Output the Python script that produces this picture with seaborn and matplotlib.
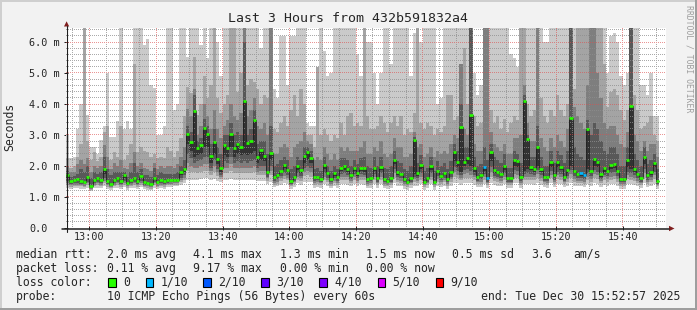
import numpy as np
import pandas as pd
import matplotlib
matplotlib.use("Agg")
import matplotlib.pyplot as plt
import seaborn as sns
from matplotlib.patches import Rectangle, Polygon
from matplotlib.lines import Line2D

# ---------------- data (values in ms, one entry per minute from 12:53) ----------------
start_clock = "12:53"

median = [1.72, 1.52, 1.55, 1.58, 1.52, 1.50, 1.65, 1.35, 1.55, 1.62,
          1.56, 1.90, 1.53, 1.43, 1.55, 1.62, 1.52, 1.70, 1.45, 1.55,
          1.62, 1.53, 1.68, 1.47, 1.45, 1.42, 1.62, 1.50, 1.55, 1.52,
          1.54, 1.55, 1.56, 1.56, 1.82, 1.90, 3.02, 2.76, 3.77, 2.59,
          2.68, 3.24, 3.02, 2.31, 2.76, 2.21, 1.93, 2.68, 2.59, 3.04,
          2.57, 2.71, 2.62, 4.10, 2.73, 2.81, 3.48, 2.28, 2.52, 2.32,
          1.82, 2.43, 1.63, 1.71, 1.85, 2.03, 1.87, 1.52, 1.66, 2.00,
          1.86, 2.32, 2.46, 2.27, 1.64, 1.66, 1.59, 2.02, 1.78, 1.57,
          1.76, 1.64, 1.94, 1.99, 1.90, 1.72, 1.92, 1.76, 1.94, 1.92,
          1.58, 1.62, 1.94, 1.60, 1.98, 1.57, 1.53, 1.60, 2.20, 1.81,
          1.75, 1.57, 1.50, 1.62, 2.85, 1.76, 2.02, 1.50, 1.60, 2.00,
          1.50, 1.84, 1.68, 1.78, 1.57, 1.82, 2.44, 2.13, 3.27, 2.14,
          2.25, 3.65, 1.92, 1.66, 1.71, 1.96, 1.60, 2.44, 1.87, 1.82,
          1.75, 1.99, 1.60, 1.60, 2.19, 2.15, 1.63, 4.10, 2.86, 1.96,
          1.90, 2.62, 1.89, 1.65, 1.63, 2.14, 1.70, 2.12, 1.97, 1.66,
          1.86, 3.54, 1.84, 1.75, 1.76, 1.70, 3.20, 1.84, 2.22, 2.13,
          1.74, 1.92, 1.84, 2.02, 2.08, 1.84, 1.57, 1.57, 2.20, 3.92,
          1.90, 1.75, 1.62, 2.29, 1.70, 1.81, 2.10, 1.52]

# sorted pings per minute: p0 (fastest) ... p9 (slowest); the median is p5
p9 = [3.0, 2.25, 2.3, 3.2, 4.0, 7.0, 3.65, 2.6, 2.6, 2.4,
      2.85, 3.3, 5.0, 2.95, 2.95, 3.45, 7.0, 3.2, 3.45, 3.2,
      7.0, 7.0, 7.0, 5.9, 6.1, 4.6, 4.5, 3.0, 3.0, 3.3,
      7.0, 7.0, 3.8, 4.0, 7.0, 7.0, 5.5, 7.0, 7.0, 7.0,
      5.9, 7.0, 5.5, 7.0, 7.0, 6.0, 4.9, 7.0, 7.0, 7.0,
      7.0, 7.0, 7.0, 7.0, 7.0, 7.0, 7.0, 7.0, 5.8, 7.0,
      7.0, 7.0, 4.5, 4.2, 6.2, 6.2, 4.6, 6.2, 6.2, 7.0,
      7.0, 7.0, 3.4, 3.3, 3.3, 5.2, 7.0, 5.7, 4.9, 5.0,
      7.0, 7.0, 7.0, 7.0, 7.0, 7.0, 7.0, 5.6, 4.9, 7.0,
      6.0, 6.0, 5.0, 4.0, 5.0, 7.0, 7.0, 5.3, 7.0, 7.0,
      7.0, 7.0, 7.0, 4.9, 6.3, 6.3, 6.0, 7.0, 7.0, 7.0,
      7.0, 4.0, 4.2, 7.0, 7.0, 7.0, 7.0, 7.0, 7.0, 7.0,
      7.0, 7.0, 5.0, 4.3, 4.6, 7.0, 7.0, 7.0, 7.0, 7.0,
      7.0, 7.0, 7.0, 5.6, 5.5, 5.2, 7.0, 7.0, 7.0, 7.0,
      7.0, 7.0, 7.0, 6.0, 6.0, 7.0, 7.0, 7.0, 7.0, 7.0,
      7.0, 7.0, 7.0, 7.0, 7.0, 7.0, 7.0, 7.0, 7.0, 7.0,
      7.0, 7.0, 5.0, 6.2, 6.3, 6.0, 4.9, 4.6, 5.0, 7.0,
      7.0, 7.0, 4.6, 4.6, 4.3, 5.0, 3.6, 3.6]

p8 = [2.25, 1.95, 2.0, 2.3, 2.7, 7.0, 2.8, 2.2, 2.45, 2.15,
      2.3, 3.1, 3.3, 2.2, 2.45, 2.3, 3.3, 2.2, 2.35, 2.7,
      5.3, 2.45, 2.6, 2.5, 2.45, 2.3, 2.4, 2.25, 2.3, 2.25,
      2.6, 2.5, 2.3, 2.5, 2.9, 3.6, 4.55, 4.35, 5.5, 3.65,
      4.0, 4.9, 4.2, 4.6, 7.0, 4.2, 3.7, 4.0, 4.3, 7.0,
      7.0, 4.4, 5.0, 7.0, 4.6, 4.8, 4.7, 4.5, 4.0, 4.3,
      4.2, 7.0, 3.2, 3.1, 3.4, 3.6, 3.3, 3.8, 4.3, 3.6,
      4.5, 4.0, 3.0, 3.0, 2.6, 5.2, 3.0, 3.2, 3.0, 2.8,
      3.0, 2.9, 3.4, 3.0, 3.6, 3.7, 3.3, 3.4, 3.3, 7.0,
      3.6, 3.2, 3.2, 3.3, 3.6, 3.4, 3.1, 3.4, 3.6, 3.3,
      3.6, 3.0, 3.2, 3.1, 3.7, 7.0, 3.4, 3.2, 3.4, 3.3,
      3.0, 3.2, 3.1, 3.3, 4.3, 4.3, 3.5, 3.6, 5.3, 5.8,
      4.0, 7.0, 3.6, 3.3, 3.4, 7.0, 7.0, 3.8, 3.4, 3.6,
      3.2, 3.5, 3.1, 3.4, 3.6, 3.5, 7.0, 7.0, 4.0, 3.6,
      3.8, 7.0, 4.2, 3.6, 3.4, 3.8, 3.6, 4.3, 3.8, 3.6,
      4.0, 7.0, 4.5, 7.0, 7.0, 7.0, 7.0, 7.0, 7.0, 7.0,
      7.0, 5.3, 3.9, 4.4, 4.5, 4.3, 3.8, 3.5, 3.8, 7.0,
      4.3, 3.8, 3.2, 3.3, 3.4, 3.6, 3.0, 2.8]

p7 = [2.0, 1.8, 1.8, 2.05, 2.2, 2.05, 2.25, 1.8, 2.0, 1.95,
      2.0, 2.68, 2.3, 1.9, 2.1, 2.0, 2.2, 1.95, 1.9, 2.1,
      2.45, 2.0, 2.1, 1.95, 1.9, 1.85, 2.1, 1.9, 2.0, 1.95,
      2.0, 2.0, 1.95, 2.05, 2.3, 2.6, 3.85, 3.6, 4.5, 3.0,
      3.3, 4.0, 3.6, 3.2, 3.8, 3.2, 2.9, 3.3, 3.5, 4.0,
      3.6, 3.5, 3.7, 7.0, 3.6, 3.8, 4.2, 3.3, 3.2, 3.4,
      3.0, 7.0, 2.4, 2.4, 2.6, 2.7, 2.6, 2.3, 2.6, 2.7,
      2.8, 3.1, 2.8, 2.7, 2.2, 2.3, 2.2, 2.6, 2.4, 2.2,
      2.4, 2.2, 2.6, 2.5, 2.6, 2.5, 2.5, 2.5, 2.6, 2.8,
      2.4, 2.4, 2.6, 2.5, 2.8, 2.4, 2.3, 2.4, 2.9, 2.6,
      2.6, 2.3, 2.3, 2.4, 3.1, 2.6, 2.7, 2.3, 2.4, 2.6,
      2.3, 2.5, 2.4, 2.5, 2.4, 2.7, 3.0, 2.9, 5.3, 3.2,
      3.0, 7.0, 2.7, 2.5, 2.5, 7.0, 7.0, 3.1, 2.7, 2.6,
      2.5, 2.7, 2.4, 2.4, 2.9, 2.9, 3.0, 4.6, 3.4, 2.8,
      2.8, 7.0, 2.9, 2.6, 2.5, 2.9, 2.6, 3.0, 2.8, 2.6,
      3.2, 7.0, 3.9, 3.6, 3.4, 3.2, 4.6, 7.0, 7.0, 5.0,
      4.2, 3.4, 3.2, 3.3, 3.3, 3.0, 2.7, 2.6, 3.1, 7.0,
      3.0, 2.8, 2.5, 2.8, 2.5, 2.7, 2.7, 2.3]

p6 = [1.85, 1.65, 1.68, 1.75, 1.9, 1.8, 2.0, 1.6, 1.8, 1.75,
      1.8, 2.3, 1.9, 1.7, 1.8, 1.8, 1.8, 1.8, 1.65, 1.8,
      2.1, 1.8, 1.9, 1.7, 1.7, 1.65, 1.95, 1.7, 1.8, 1.75,
      1.75, 1.75, 1.75, 1.8, 2.0, 2.2, 3.3, 3.1, 4.3, 2.8,
      2.9, 3.5, 3.3, 2.7, 3.2, 2.6, 2.4, 3.0, 3.0, 3.4,
      3.0, 3.1, 3.0, 6.0, 3.0, 3.2, 3.8, 2.7, 2.8, 2.8,
      2.4, 3.3, 2.0, 2.05, 2.2, 2.3, 2.2, 1.9, 2.0, 2.3,
      2.2, 2.6, 2.6, 2.5, 1.9, 1.95, 1.85, 2.3, 2.0, 1.85,
      2.0, 1.9, 2.25, 2.25, 2.2, 2.0, 2.2, 2.05, 2.25, 2.3,
      2.0, 1.95, 2.3, 2.0, 2.3, 1.95, 1.9, 2.0, 2.5, 2.15,
      2.1, 1.9, 1.85, 2.0, 2.95, 2.1, 2.35, 1.85, 1.95, 2.3,
      1.85, 2.15, 2.0, 2.1, 1.9, 2.15, 2.7, 2.5, 4.0, 2.6,
      2.6, 7.0, 2.3, 2.0, 2.05, 2.6, 2.2, 2.7, 2.3, 2.2,
      2.1, 2.4, 1.95, 1.95, 2.5, 2.4, 2.1, 4.3, 3.0, 2.3,
      2.3, 3.3, 2.3, 2.0, 2.0, 2.5, 2.1, 2.5, 2.35, 2.1,
      2.5, 7.0, 2.6, 2.4, 2.3, 2.2, 3.5, 3.0, 3.4, 3.2,
      2.8, 2.5, 2.4, 2.6, 2.6, 2.4, 2.0, 2.0, 2.6, 7.0,
      2.4, 2.2, 2.0, 2.6, 2.05, 2.2, 2.4, 1.9]

p4 = [1.62, 1.48, 1.50, 1.52, 1.47, 1.46, 1.58, 1.32, 1.50, 1.56,
      1.50, 1.75, 1.48, 1.40, 1.50, 1.56, 1.48, 1.62, 1.42, 1.50,
      1.56, 1.48, 1.60, 1.44, 1.42, 1.39, 1.56, 1.46, 1.50, 1.48,
      1.50, 1.51, 1.52, 1.52, 1.72, 1.80, 2.7, 2.5, 2.3, 2.35,
      2.4, 2.6, 2.6, 2.1, 2.4, 2.05, 1.82, 2.35, 2.3, 2.6,
      2.3, 2.4, 2.35, 2.4, 2.35, 2.4, 2.5, 2.1, 2.2, 2.15,
      1.75, 2.2, 1.58, 1.65, 1.78, 1.92, 1.80, 1.47, 1.60, 1.88,
      1.78, 2.1, 2.2, 2.1, 1.58, 1.60, 1.54, 1.90, 1.70, 1.52,
      1.68, 1.58, 1.85, 1.88, 1.82, 1.66, 1.84, 1.68, 1.85, 1.82,
      1.54, 1.57, 1.85, 1.55, 1.88, 1.52, 1.49, 1.55, 2.05, 1.72,
      1.68, 1.52, 1.46, 1.56, 1.75, 1.68, 1.90, 1.46, 1.55, 1.88,
      1.46, 1.76, 1.62, 1.70, 1.52, 1.74, 2.15, 1.98, 1.80, 2.0,
      2.05, 2.0, 1.82, 1.60, 1.64, 1.85, 1.55, 2.15, 1.78, 1.74,
      1.68, 1.88, 1.55, 1.55, 2.0, 1.98, 1.58, 1.85, 1.9, 1.86,
      1.82, 2.0, 1.80, 1.60, 1.58, 1.98, 1.63, 1.96, 1.86, 1.60,
      1.76, 2.0, 1.76, 1.68, 1.68, 1.64, 1.9, 1.76, 2.0, 1.96,
      1.66, 1.82, 1.76, 1.90, 1.94, 1.76, 1.52, 1.52, 1.96, 1.9,
      1.80, 1.68, 1.56, 2.05, 1.63, 1.72, 1.96, 1.47]

p3 = [1.52, 1.42, 1.45, 1.46, 1.42, 1.41, 1.50, 1.28, 1.44, 1.50,
      1.45, 1.62, 1.43, 1.36, 1.45, 1.50, 1.43, 1.53, 1.38, 1.45,
      1.50, 1.43, 1.52, 1.39, 1.38, 1.35, 1.50, 1.41, 1.45, 1.43,
      1.46, 1.47, 1.48, 1.48, 1.62, 1.70, 2.4, 2.25, 2.1, 2.15,
      2.2, 2.3, 2.3, 1.95, 2.2, 1.9, 1.72, 2.15, 2.1, 2.3,
      2.1, 2.15, 2.1, 2.15, 2.1, 2.15, 2.2, 1.95, 2.0, 2.0,
      1.66, 2.0, 1.52, 1.58, 1.68, 1.78, 1.70, 1.42, 1.53, 1.76,
      1.68, 1.95, 2.0, 1.95, 1.52, 1.54, 1.49, 1.78, 1.62, 1.47,
      1.60, 1.52, 1.74, 1.76, 1.72, 1.58, 1.73, 1.60, 1.74, 1.72,
      1.48, 1.51, 1.74, 1.49, 1.76, 1.47, 1.44, 1.50, 1.9, 1.64,
      1.60, 1.47, 1.42, 1.50, 1.65, 1.60, 1.78, 1.42, 1.49, 1.76,
      1.42, 1.67, 1.55, 1.62, 1.47, 1.65, 1.98, 1.84, 1.70, 1.86,
      1.9, 1.85, 1.72, 1.53, 1.57, 1.74, 1.49, 1.98, 1.68, 1.65,
      1.60, 1.76, 1.49, 1.49, 1.86, 1.84, 1.52, 1.74, 1.78, 1.75,
      1.72, 1.86, 1.70, 1.53, 1.52, 1.84, 1.56, 1.82, 1.75, 1.53,
      1.67, 1.86, 1.67, 1.60, 1.60, 1.57, 1.78, 1.67, 1.86, 1.82,
      1.58, 1.72, 1.67, 1.78, 1.80, 1.67, 1.47, 1.47, 1.82, 1.78,
      1.70, 1.60, 1.50, 1.9, 1.56, 1.64, 1.82, 1.42]

p2 = [1.45, 1.38, 1.40, 1.40, 1.38, 1.37, 1.44, 1.25, 1.40, 1.44,
      1.40, 1.52, 1.38, 1.32, 1.40, 1.44, 1.38, 1.46, 1.34, 1.40,
      1.44, 1.38, 1.45, 1.35, 1.34, 1.31, 1.44, 1.37, 1.40, 1.38,
      1.42, 1.43, 1.44, 1.44, 1.55, 1.62, 2.1, 2.0, 1.95, 1.95,
      2.0, 2.05, 2.05, 1.85, 2.0, 1.80, 1.65, 1.95, 1.92, 2.05,
      1.95, 1.95, 1.95, 1.95, 1.95, 1.95, 2.0, 1.82, 1.85, 1.85,
      1.60, 1.85, 1.46, 1.50, 1.60, 1.68, 1.62, 1.38, 1.47, 1.66,
      1.60, 1.82, 1.85, 1.80, 1.46, 1.48, 1.44, 1.66, 1.55, 1.42,
      1.53, 1.46, 1.64, 1.66, 1.63, 1.51, 1.64, 1.53, 1.64, 1.63,
      1.43, 1.45, 1.64, 1.44, 1.66, 1.42, 1.40, 1.44, 1.76, 1.56,
      1.53, 1.42, 1.38, 1.45, 1.57, 1.53, 1.66, 1.38, 1.44, 1.66,
      1.38, 1.59, 1.49, 1.55, 1.42, 1.57, 1.82, 1.72, 1.62, 1.74,
      1.76, 1.72, 1.63, 1.47, 1.50, 1.64, 1.44, 1.82, 1.60, 1.57,
      1.53, 1.66, 1.44, 1.44, 1.74, 1.72, 1.46, 1.64, 1.66, 1.65,
      1.63, 1.74, 1.62, 1.47, 1.46, 1.72, 1.50, 1.70, 1.65, 1.47,
      1.59, 1.74, 1.59, 1.53, 1.53, 1.50, 1.66, 1.59, 1.74, 1.70,
      1.51, 1.63, 1.59, 1.66, 1.68, 1.59, 1.42, 1.42, 1.70, 1.66,
      1.62, 1.53, 1.45, 1.76, 1.50, 1.56, 1.70, 1.38]

p1 = [1.38, 1.33, 1.35, 1.36, 1.34, 1.32, 1.38, 1.22, 1.35, 1.38,
      1.35, 1.45, 1.33, 1.28, 1.35, 1.38, 1.33, 1.40, 1.30, 1.35,
      1.38, 1.33, 1.39, 1.31, 1.30, 1.27, 1.38, 1.32, 1.35, 1.33,
      1.38, 1.39, 1.40, 1.40, 1.48, 1.54, 1.85, 1.80, 1.80, 1.78,
      1.80, 1.85, 1.85, 1.72, 1.82, 1.68, 1.58, 1.78, 1.76, 1.85,
      1.78, 1.78, 1.78, 1.78, 1.78, 1.78, 1.80, 1.70, 1.72, 1.72,
      1.52, 1.70, 1.40, 1.43, 1.52, 1.58, 1.54, 1.34, 1.41, 1.56,
      1.52, 1.68, 1.70, 1.66, 1.40, 1.42, 1.38, 1.56, 1.48, 1.37,
      1.46, 1.40, 1.55, 1.56, 1.54, 1.44, 1.55, 1.46, 1.55, 1.54,
      1.37, 1.39, 1.55, 1.38, 1.56, 1.37, 1.35, 1.38, 1.62, 1.48,
      1.46, 1.37, 1.33, 1.39, 1.49, 1.46, 1.56, 1.33, 1.38, 1.56,
      1.33, 1.50, 1.42, 1.47, 1.37, 1.49, 1.66, 1.60, 1.54, 1.62,
      1.62, 1.60, 1.54, 1.41, 1.43, 1.55, 1.38, 1.66, 1.52, 1.49,
      1.46, 1.56, 1.38, 1.38, 1.62, 1.60, 1.40, 1.55, 1.56, 1.55,
      1.54, 1.62, 1.53, 1.41, 1.40, 1.60, 1.43, 1.58, 1.55, 1.41,
      1.50, 1.62, 1.50, 1.46, 1.46, 1.43, 1.56, 1.50, 1.62, 1.58,
      1.44, 1.54, 1.50, 1.56, 1.57, 1.50, 1.37, 1.37, 1.58, 1.56,
      1.53, 1.46, 1.39, 1.62, 1.43, 1.48, 1.58, 1.34]

p0 = [1.30, 1.25, 1.28, 1.30, 1.27, 1.26, 1.30, 1.18, 1.28, 1.30,
      1.28, 1.35, 1.27, 1.22, 1.28, 1.30, 1.26, 1.32, 1.24, 1.28,
      1.30, 1.27, 1.31, 1.25, 1.24, 1.21, 1.30, 1.26, 1.28, 1.27,
      1.32, 1.33, 1.34, 1.34, 1.40, 1.45, 1.55, 1.55, 1.55, 1.55,
      1.58, 1.60, 1.60, 1.55, 1.58, 1.52, 1.48, 1.55, 1.55, 1.58,
      1.56, 1.55, 1.56, 1.55, 1.55, 1.56, 1.56, 1.52, 1.52, 1.52,
      1.42, 1.50, 1.32, 1.34, 1.40, 1.45, 1.42, 1.26, 1.32, 1.44,
      1.40, 1.50, 1.50, 1.48, 1.30, 1.32, 1.28, 1.42, 1.36, 1.28,
      1.35, 1.30, 1.42, 1.42, 1.40, 1.34, 1.42, 1.35, 1.42, 1.40,
      1.28, 1.30, 1.42, 1.28, 1.42, 1.28, 1.26, 1.28, 1.45, 1.36,
      1.34, 1.27, 1.24, 1.29, 1.36, 1.34, 1.42, 1.24, 1.28, 1.42,
      1.24, 1.37, 1.31, 1.35, 1.27, 1.36, 1.46, 1.44, 1.40, 1.45,
      1.45, 1.44, 1.40, 1.31, 1.32, 1.42, 1.28, 1.46, 1.38, 1.36,
      1.34, 1.42, 1.28, 1.28, 1.45, 1.44, 1.30, 1.42, 1.42, 1.42,
      1.40, 1.45, 1.40, 1.31, 1.30, 1.44, 1.32, 1.42, 1.42, 1.31,
      1.37, 1.45, 1.37, 1.34, 1.34, 1.32, 1.42, 1.37, 1.45, 1.42,
      1.33, 1.40, 1.37, 1.42, 1.42, 1.37, 1.27, 1.27, 1.42, 1.42,
      1.40, 1.34, 1.29, 1.45, 1.32, 1.36, 1.42, 1.26]

# lost pings (out of 10) for the minutes that had loss; all others 0
lossy_minutes = {125: 1, 126: 1, 154: 1, 155: 1}

loss_levels = ["0", "1/10", "2/10", "3/10", "4/10", "5/10", "9/10"]
loss_level_values = [0, 1, 2, 3, 4, 5, 9]
loss_colors = ["#26ff00", "#00b8ff", "#0059ff", "#5e00ff", "#7e00ff", "#dd00ff", "#ff0000"]

x_tick_labels = ["13:00", "13:20", "13:40", "14:00", "14:20", "14:40", "15:00", "15:20", "15:40"]
y_tick_values = [0, 1, 2, 3, 4, 5, 6]
y_tick_labels = ["0.0", "1.0 m", "2.0 m", "3.0 m", "4.0 m", "5.0 m", "6.0 m"]

title = "Last 3 Hours from 432b591832a4"
y_label = "Seconds"
watermark = "RRDTOOL / TOBI OETIKER"
rtt_label = "median rtt:"
rtt_stats = ["2.0 ms avg", "4.1 ms max", "1.3 ms min", "1.5 ms now", "0.5 ms sd", "3.6", "am/s"]
loss_label = "packet loss:"
loss_stats = ["0.11 % avg", "9.17 % max", "0.00 % min", "0.00 % now"]
color_label = "loss color:"
probe_label = "probe:"
probe_text = "10 ICMP Echo Pings (56 Bytes) every 60s"
end_text = "end: Tue Dec 30 15:52:57 2025"

# ---------------- layout ----------------
W, H, DPI = 697, 310, 100
PLOT_L, PLOT_W = 66, 600          # pixels
PLOT_TOP, PLOT_H = 28, 200        # pixels
PX_PER_MS = 31.0
SPAN_MIN = 180.0
Y_MAX = PLOT_H / PX_PER_MS

sns.set_theme(style="white")
plt.rcParams["font.family"] = ["DejaVu Sans Mono", "DejaVu Sans"]

BG = (0.95, 0.95, 0.95)
fig = plt.figure(figsize=(W / DPI, H / DPI), dpi=DPI, facecolor=BG)


def fx(x):
    return x / W


def fy(y):
    return 1 - y / H


PLOT_BOT = PLOT_TOP + PLOT_H
ax = fig.add_axes([fx(PLOT_L), fy(PLOT_BOT), PLOT_W / W, PLOT_H / H])
ax.set_facecolor("white")
for s in ax.spines.values():
    s.set_visible(False)

n = len(median)
t = np.arange(n)
loss = np.array([lossy_minutes.get(i, 0) for i in range(n)])

# smoke bands (sorted pings), lightest outer pair to darkest inner pair
bands = [(p0, p9, "#cacaca"), (p1, p8, "#a4a4a4"), (p2, p7, "#7e7e7e"),
         (p3, p6, "#585858"), (p4, median, "#323232")]
for lo, hi, col in bands:
    lo = np.asarray(lo, float)
    hi = np.asarray(hi, float)
    ax.bar(t, hi - lo, bottom=lo, width=1.0, align="edge", color=col,
           linewidth=0, antialiased=False, zorder=1)

# ---------------- dotted rrdtool-style grid as a pixel overlay ----------------
def clock_to_min(s):
    h, m = map(int, s.split(":"))
    h0, m0 = map(int, start_clock.split(":"))
    return (h * 60 + m) - (h0 * 60 + m0)

major_x = [clock_to_min(s) for s in x_tick_labels]
off5 = clock_to_min("13:00") % 5
minor_x = [m for m in np.arange(off5, SPAN_MIN, 5)
           if all(abs(m - M) > 0.1 for M in major_x)]
minor_y = [v for v in np.arange(0.2, Y_MAX, 0.2) if abs(v - round(v)) > 0.05]
major_y = [v for v in y_tick_values if v > 0]

grid_img = np.zeros((PLOT_H, PLOT_W, 4))
grid_c = (0.56, 0.56, 0.56, 0.75)
mgrid_c = (0.87, 0.31, 0.31, 0.60)


def col_of(m):
    return int(np.floor(m * PLOT_W / SPAN_MIN + 1e-6))


def row_of(v):
    return int(round(PLOT_H - v * PX_PER_MS - 0.5))


def paint(xs, ys, c):
    for m in xs:
        cc = col_of(m)
        if 0 <= cc < PLOT_W:
            grid_img[0::2, cc] = c
    for v in ys:
        r = row_of(v)
        if 0 <= r < PLOT_H:
            grid_img[r, 0::2] = c


paint(minor_x, minor_y, grid_c)
paint(major_x, major_y, mgrid_c)
ax.imshow(grid_img, extent=(0, SPAN_MIN, 0, Y_MAX), aspect="auto",
          interpolation="nearest", origin="upper", zorder=2)

# median connecting line
df = pd.DataFrame({"minute": np.append(t, n), "rtt": np.append(median, median[-1])})
sns.lineplot(data=df, x="minute", y="rtt", drawstyle="steps-post", color="#202020",
             linewidth=0.6, ax=ax, zorder=3, estimator=None)

# median marks coloured by loss
col_map = dict(zip(loss_level_values, loss_colors))
seg_cols = [col_map[l] for l in loss]
ax.hlines(median, t, t + 1, colors=seg_cols, linewidth=1.9, zorder=4, capstyle="butt")

ax.set_xlim(0, SPAN_MIN)
ax.set_ylim(0, Y_MAX)

# ticks
ax.set_xticks(major_x)
ax.set_xticklabels(x_tick_labels)
ax.set_yticks(y_tick_values)
ax.set_yticklabels(y_tick_labels)
ax.set_xlabel("")
ax.set_ylabel("")
ax.tick_params(axis="x", direction="inout", length=3, width=0.72, color=(0.12, 0.12, 0.12),
               pad=1.2, labelsize=7.3, bottom=True)
ax.tick_params(axis="y", direction="inout", length=3, width=0.72, color=(0.12, 0.12, 0.12),
               pad=24.8, labelsize=7.3, left=True)
for lab in ax.get_yticklabels():
    lab.set_horizontalalignment("left")

# axis lines and arrows (figure pixel coords)
axis_c = (0.12, 0.12, 0.12)
arrow_c = (0.5, 0.12, 0.12)
fig.add_artist(Line2D([fx(62), fx(669)], [fy(228.5), fy(228.5)], color=axis_c, lw=1.1))
fig.add_artist(Line2D([fx(66.5), fx(66.5)], [fy(232), fy(26)], color=axis_c, lw=0.8))
fig.add_artist(Polygon([[fx(669), fy(225.8)], [fx(669), fy(231.2)], [fx(674.5), fy(228.5)]],
                       closed=True, color=arrow_c, lw=0))
fig.add_artist(Polygon([[fx(64), fy(26.5)], [fx(69.2), fy(26.5)], [fx(66.6), fy(21.3)]],
                       closed=True, color=arrow_c, lw=0))

# border shading
shadeA = (0.81, 0.81, 0.81)
shadeB = (0.62, 0.62, 0.62)
fig.add_artist(Rectangle((0, fy(2)), 1, 2 / H, color=shadeA, lw=0))
fig.add_artist(Rectangle((0, 0), 2 / W, 1, color=shadeA, lw=0))
fig.add_artist(Rectangle((0, 0), 1, 2 / H, color=shadeB, lw=0))
fig.add_artist(Rectangle((1 - 2 / W, 0), 2 / W, 1, color=shadeB, lw=0))

# texts
LFS = 8.3
fig.text(fx(348), fy(19), title, ha="center", va="center", fontsize=9.5)
fig.text(fx(10), fy(127), y_label, ha="center", va="center", rotation=90, fontsize=LFS)
fig.text(fx(688.5), fy(59), watermark, ha="center", va="center", rotation=270,
         fontsize=5.9, color=(0.62, 0.62, 0.62))

rows = [254.3, 268.3, 282.3, 296.7]
label_x = 16
stat_x = [107, 193, 279.5, 366, 452, 531, 573]
fig.text(fx(label_x), fy(rows[0]), rtt_label, ha="left", va="center", fontsize=LFS)
for s, x in zip(rtt_stats, stat_x):
    fig.text(fx(x), fy(rows[0]), s, ha="left", va="center", fontsize=LFS)
fig.text(fx(label_x), fy(rows[1]), loss_label, ha="left", va="center", fontsize=LFS)
for s, x in zip(loss_stats, stat_x):
    fig.text(fx(x), fy(rows[1]), s, ha="left", va="center", fontsize=LFS)
fig.text(fx(label_x), fy(rows[2]), color_label, ha="left", va="center", fontsize=LFS)
box_x = [108.3, 145.7, 203.3, 261, 319, 377.7, 435.7]
for lbl, col, bx in zip(loss_levels, loss_colors, box_x):
    fig.add_artist(Rectangle((fx(bx), fy(rows[2] + 4.3)), 7.5 / W, 8.6 / H,
                             facecolor=col, edgecolor="black", lw=0.8))
    fig.text(fx(bx + 15), fy(rows[2]), lbl, ha="left", va="center", fontsize=LFS)
fig.text(fx(label_x), fy(rows[3]), probe_label, ha="left", va="center", fontsize=LFS)
fig.text(fx(107), fy(rows[3]), probe_text, ha="left", va="center", fontsize=LFS)
fig.text(fx(680.5), fy(rows[3]), end_text, ha="right", va="center", fontsize=LFS)

fig.savefig("out.png", dpi=DPI, facecolor=BG)
